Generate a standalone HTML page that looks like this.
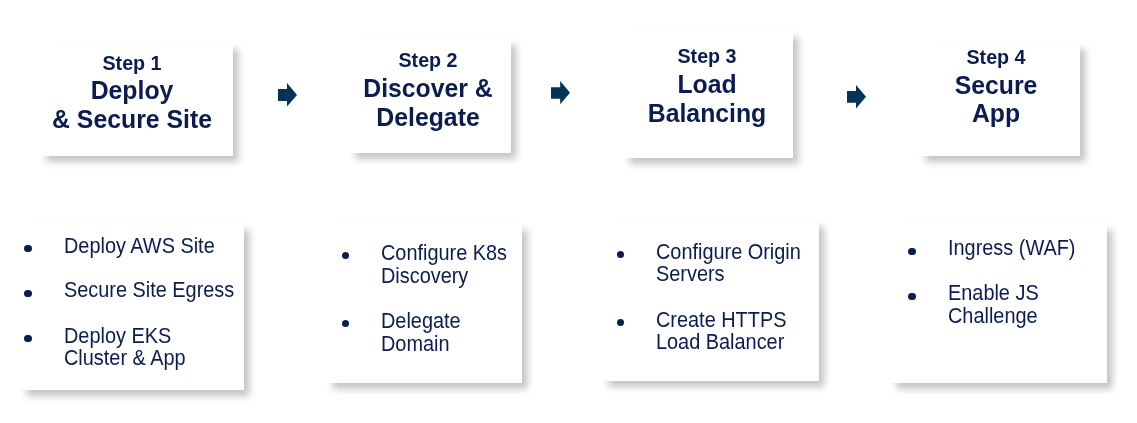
<!DOCTYPE html>
<html>
<head>
<meta charset="utf-8">
<style>
html,body{margin:0;padding:0;background:#fff;}
body{width:1137px;height:423px;position:relative;overflow:hidden;font-family:"Liberation Sans",sans-serif;}
.box{position:absolute;background:#fff;box-shadow:5.5px 6px 7px rgba(0,0,0,0.23);}
.t{will-change:transform;position:absolute;white-space:nowrap;color:#0a1c50;font-weight:bold;line-height:30px;text-align:center;width:300px;}
.s{font-size:19.7px;transform:scaleY(1.02);transform-origin:0 22.0px;}
.b{font-size:24.8px;transform:scaleY(1.035);transform-origin:0 23.0px;}
.li{will-change:transform;position:absolute;white-space:nowrap;color:#0a1c50;font-size:19.9px;line-height:30px;transform:scaleY(1.07);transform-origin:0 22.0px;}
.dot{position:absolute;width:7.4px;height:7.4px;border-radius:50%;background:#0a1c50;}
svg{position:absolute;left:0;top:0;}
</style>
</head>
<body>

<div class="box" style="left:40px;top:43px;width:193px;height:113px"></div>
<div class="box" style="left:349px;top:39px;width:162px;height:114px"></div>
<div class="box" style="left:623px;top:31px;width:170px;height:127px"></div>
<div class="box" style="left:919px;top:43px;width:161px;height:113px"></div>
<div class="box" style="left:20px;top:224px;width:224px;height:166px"></div>
<div class="box" style="left:326px;top:224px;width:196px;height:159px"></div>
<div class="box" style="left:602px;top:221px;width:217px;height:160px"></div>
<div class="box" style="left:890px;top:224px;width:217px;height:159px"></div>
<svg width="1137" height="423" viewBox="0 0 1137 423">
<g fill="#023458">
<polygon points="278,89 287,89 287,83 297,95 287,106.5 287,101 278,101"/>
<polygon points="551,87.2 560.2,87.2 560.2,81 570,92.7 560.2,104.2 560.2,98.8 551,98.8"/>
<polygon points="847,91 856,91 856,85 866,96.7 856,108.4 856,102.8 847,102.8"/>
</g>
</svg>
<div class="t s" style="left:-17.80px;top:47.80px">Step 1</div>
<div class="t b" style="left:-17.80px;top:76.00px">Deploy</div>
<div class="t b" style="left:-17.80px;top:104.50px">&amp; Secure Site</div>
<div class="t s" style="left:278.20px;top:45.10px">Step 2</div>
<div class="t b" style="left:278.20px;top:73.50px">Discover &amp;</div>
<div class="t b" style="left:278.20px;top:102.60px">Delegate</div>
<div class="t s" style="left:557.00px;top:41.30px">Step 3</div>
<div class="t b" style="left:557.00px;top:69.60px">Load</div>
<div class="t b" style="left:557.00px;top:98.80px">Balancing</div>
<div class="t s" style="left:846.10px;top:42.40px">Step 4</div>
<div class="t b" style="left:846.10px;top:71.10px">Secure</div>
<div class="t b" style="left:846.10px;top:99.40px">App</div>
<div class="dot" style="left:24.30px;top:244.90px"></div>
<div class="li" style="left:63.70px;top:230.60px">Deploy AWS Site</div>
<div class="dot" style="left:24.30px;top:289.50px"></div>
<div class="li" style="left:63.70px;top:275.20px">Secure Site Egress</div>
<div class="dot" style="left:24.30px;top:334.80px"></div>
<div class="li" style="left:63.70px;top:320.50px">Deploy EKS</div>
<div class="li" style="left:63.70px;top:343.30px">Cluster &amp; App</div>
<div class="dot" style="left:341.60px;top:252.10px"></div>
<div class="li" style="left:381.30px;top:237.80px">Configure K8s</div>
<div class="li" style="left:381.30px;top:260.60px">Discovery</div>
<div class="dot" style="left:341.60px;top:320.00px"></div>
<div class="li" style="left:381.30px;top:305.70px">Delegate</div>
<div class="li" style="left:381.30px;top:328.50px">Domain</div>
<div class="dot" style="left:616.50px;top:250.80px"></div>
<div class="li" style="left:656.30px;top:236.50px">Configure Origin</div>
<div class="li" style="left:656.30px;top:259.30px">Servers</div>
<div class="dot" style="left:616.50px;top:318.80px"></div>
<div class="li" style="left:656.30px;top:304.50px">Create HTTPS</div>
<div class="li" style="left:656.30px;top:327.30px">Load Balancer</div>
<div class="dot" style="left:908.30px;top:247.50px"></div>
<div class="li" style="left:947.80px;top:233.20px">Ingress (WAF)</div>
<div class="dot" style="left:908.30px;top:292.50px"></div>
<div class="li" style="left:947.80px;top:278.20px">Enable JS</div>
<div class="li" style="left:947.80px;top:301.00px">Challenge</div>
</body>
</html>
